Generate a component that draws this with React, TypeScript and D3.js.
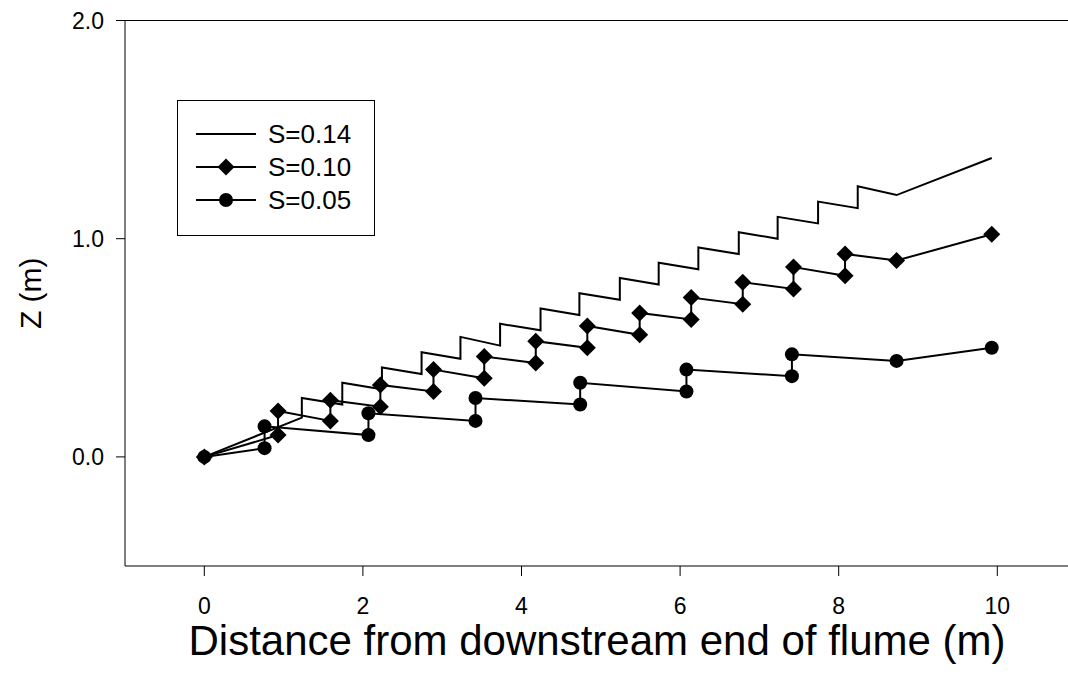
import React from "react";
import * as d3 from "d3";

// S = 0.14 (line only, saw-tooth profile)
const s14X = [0, 1.23, 1.23, 1.74, 1.74, 2.24, 2.24, 2.74, 2.74, 3.23, 3.23, 3.73, 3.73, 4.24, 4.24, 4.73, 4.73, 5.24, 5.24, 5.73, 5.73, 6.23, 6.23, 6.74, 6.74, 7.23, 7.23, 7.74, 7.74, 8.24, 8.24, 8.73, 9.93];
const s14Z = [0, 0.18, 0.27, 0.24, 0.34, 0.31, 0.41, 0.38, 0.48, 0.45, 0.55, 0.51, 0.61, 0.58, 0.68, 0.65, 0.75, 0.72, 0.82, 0.79, 0.89, 0.86, 0.96, 0.93, 1.03, 1.0, 1.1, 1.07, 1.17, 1.14, 1.24, 1.2, 1.37];

// S = 0.10 (diamonds)
const s10X = [0, 0.93, 0.93, 1.59, 1.59, 2.22, 2.22, 2.89, 2.89, 3.53, 3.53, 4.18, 4.18, 4.83, 4.83, 5.49, 5.49, 6.14, 6.14, 6.79, 6.79, 7.43, 7.43, 8.08, 8.08, 8.73, 9.93];
const s10Z = [0, 0.1, 0.21, 0.165, 0.26, 0.23, 0.33, 0.3, 0.4, 0.36, 0.46, 0.43, 0.53, 0.5, 0.6, 0.56, 0.66, 0.63, 0.73, 0.7, 0.8, 0.77, 0.87, 0.83, 0.93, 0.9, 1.02];

// S = 0.05 (circles)
const s05X = [0, 0.76, 0.76, 2.07, 2.07, 3.42, 3.42, 4.74, 4.74, 6.08, 6.08, 7.41, 7.41, 8.73, 9.93];
const s05Z = [0, 0.04, 0.14, 0.1, 0.2, 0.165, 0.27, 0.24, 0.34, 0.3, 0.4, 0.37, 0.47, 0.44, 0.5];

const xTicks = [0, 2, 4, 6, 8, 10];
const yTicks = [0, 1, 2];
const legendLabels = ["S=0.14", "S=0.10", "S=0.05"];

const W = 1068;
const H = 680;
const font = "'Liberation Sans', Arial, sans-serif";

const x = d3.scaleLinear().domain([-1, 11]).range([125, 1076.6]);
const y = d3.scaleLinear().domain([-0.5, 2]).range([566, 20.5]);

const line = d3
  .line<[number, number]>()
  .x((d) => x(d[0]))
  .y((d) => y(d[1]));

const zip = (xs: number[], zs: number[]): [number, number][] => xs.map((v, i) => [v, zs[i]]);

function Diamond({ cx, cy }: { cx: number; cy: number }) {
  const r = 8.5;
  return <path d={`M${cx},${cy - r}L${cx + r},${cy}L${cx},${cy + r}L${cx - r},${cy}Z`} fill="#000" />;
}

export default function App() {
  const s14 = zip(s14X, s14Z);
  const s10 = zip(s10X, s10Z);
  const s05 = zip(s05X, s05Z);

  return (
    <svg width={W} height={H} style={{ position: "absolute", left: 0, top: 0, background: "#fff" }} fontFamily={font}>
      {/* frame */}
      <line x1={x(-1)} x2={W} y1={y(2)} y2={y(2)} stroke="#000" strokeWidth={1} />
      <line x1={x(-1)} x2={x(-1)} y1={y(2)} y2={y(-0.5)} stroke="#000" strokeWidth={1} />
      <line x1={x(-1)} x2={W} y1={y(-0.5)} y2={y(-0.5)} stroke="#000" strokeWidth={1} />

      {/* x axis ticks */}
      {xTicks.map((t) => (
        <g key={"x" + t}>
          <line x1={x(t)} x2={x(t)} y1={y(-0.5)} y2={y(-0.5) + 10} stroke="#000" />
          <text x={x(t)} y={614} textAnchor="middle" fontSize={23}>
            {t}
          </text>
        </g>
      ))}

      {/* y axis ticks */}
      {yTicks.map((t) => (
        <g key={"y" + t}>
          <line x1={x(-1) - 9} x2={x(-1)} y1={y(t)} y2={y(t)} stroke="#000" />
          <text x={104} y={y(t) + 8} textAnchor="end" fontSize={23}>
            {d3.format(".1f")(t)}
          </text>
        </g>
      ))}

      <text x={597} y={655} textAnchor="middle" fontSize={42}>
        Distance from downstream end of flume (m)
      </text>
      <text transform={`translate(41,${y(0.75)}) rotate(-90)`} textAnchor="middle" fontSize={30}>
        Z (m)
      </text>

      {/* series */}
      <path d={line(s14) ?? ""} fill="none" stroke="#000" strokeWidth={2} />
      <path d={line(s05) ?? ""} fill="none" stroke="#000" strokeWidth={2} />
      <path d={line(s10) ?? ""} fill="none" stroke="#000" strokeWidth={2} />
      {s05.map((d, i) => (
        <circle key={"c" + i} cx={x(d[0])} cy={y(d[1])} r={7} fill="#000" />
      ))}
      {s10.map((d, i) => (
        <Diamond key={"d" + i} cx={x(d[0])} cy={y(d[1])} />
      ))}

      {/* legend */}
      <rect x={177.5} y={100.5} width={197} height={135} fill="#fff" stroke="#000" strokeWidth={1} />
      {legendLabels.map((lab, i) => {
        const ly = 134 + i * 33;
        return (
          <g key={lab}>
            <line x1={196} x2={256} y1={ly} y2={ly} stroke="#000" strokeWidth={2} />
            {i === 1 && <Diamond cx={226} cy={ly} />}
            {i === 2 && <circle cx={226} cy={ly} r={7} fill="#000" />}
            <text x={268} y={ly + 9} fontSize={26}>
              {lab}
            </text>
          </g>
        );
      })}
    </svg>
  );
}
